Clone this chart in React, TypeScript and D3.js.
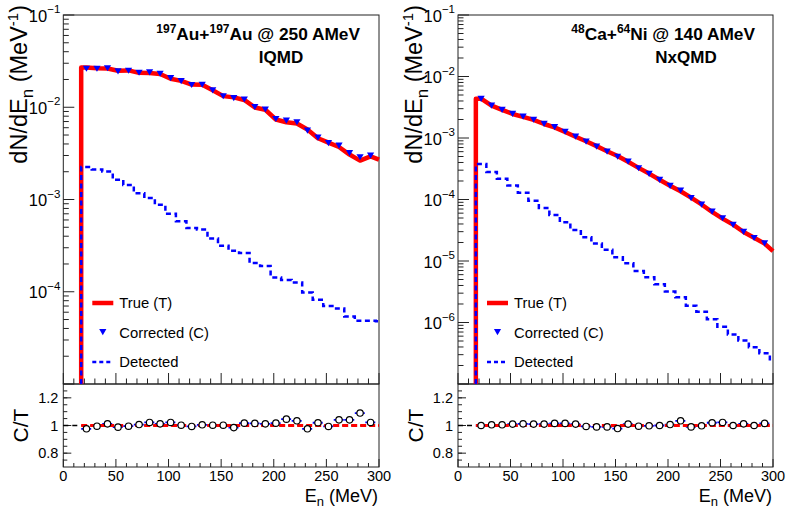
import React from 'react';
import * as d3 from 'd3';

// ---------- data ----------
const binEdges = [17, 27, 37, 47, 57, 67, 77, 87, 97, 107, 117, 127, 137, 147, 157, 167, 177, 187, 197, 207, 217, 227, 237, 247, 257, 267, 277, 287, 297, 300];
const binCenters = [22, 32, 42, 52, 62, 72, 82, 92, 102, 112, 122, 132, 142, 152, 162, 172, 182, 192, 202, 212, 222, 232, 242, 252, 262, 272, 282, 292];
const xTickLabels = [0, 50, 100, 150, 200, 250, 300];
const ratioTickLabels = [0.8, 1, 1.2];

// Au+Au (IQMD)
const auTrue = [2.69e-2, 2.64e-2, 2.63e-2, 2.49e-2, 2.51e-2, 2.36e-2, 2.35e-2, 2.29e-2, 2.04e-2, 1.93e-2, 1.76e-2, 1.75e-2, 1.53e-2, 1.32e-2, 1.28e-2, 1.2e-2, 9.95e-3, 9.39e-3, 7.37e-3, 6.88e-3, 6.67e-3, 5.74e-3, 4.61e-3, 4.13e-3, 3.71e-3, 3.07e-3, 2.64e-3, 2.94e-3];
const auTrueEnd = 2.7e-3;
const auCorrected = [2.63e-2, 2.63e-2, 2.66e-2, 2.46e-2, 2.5e-2, 2.38e-2, 2.4e-2, 2.32e-2, 2.08e-2, 1.93e-2, 1.75e-2, 1.76e-2, 1.53e-2, 1.32e-2, 1.26e-2, 1.22e-2, 1.01e-2, 9.5e-3, 7.5e-3, 7.2e-3, 6.9e-3, 5.6e-3, 4.7e-3, 4.1e-3, 3.86e-3, 3.2e-3, 2.88e-3, 3.0e-3];
const auDetected = [2.25e-3, 2.12e-3, 2.01e-3, 1.64e-3, 1.44e-3, 1.17e-3, 1.04e-3, 8.75e-4, 7.0e-4, 5.8e-4, 4.9e-4, 4.72e-4, 3.77e-4, 3.16e-4, 2.79e-4, 2.63e-4, 2.05e-4, 1.9e-4, 1.43e-4, 1.34e-4, 1.26e-4, 9.8e-5, 8.2e-5, 7.0e-5, 6.6e-5, 5.4e-5, 4.84e-5, 4.84e-5, 4.8e-5];
const auRatio = [0.976, 0.995, 1.012, 0.988, 0.995, 1.007, 1.022, 1.012, 1.022, 1.002, 0.993, 1.005, 1.002, 1.002, 0.985, 1.017, 1.015, 1.012, 1.017, 1.046, 1.034, 0.976, 1.02, 0.993, 1.041, 1.041, 1.09, 1.022];
const auYTicks = [-1, -2, -3, -4];

// Ca+Ni (NxQMD)
const caTrue = [4.35e-3, 3.37e-3, 2.87e-3, 2.46e-3, 2.21e-3, 1.97e-3, 1.69e-3, 1.49e-3, 1.25e-3, 1.05e-3, 8.86e-4, 7.37e-4, 6.11e-4, 5.11e-4, 4.11e-4, 3.27e-4, 2.64e-4, 2.1e-4, 1.67e-4, 1.36e-4, 1.07e-4, 8.3e-5, 6.27e-5, 4.89e-5, 3.9e-5, 2.96e-5, 2.38e-5, 1.92e-5];
const caTrueEnd = 1.45e-5;
const caCorrected = [4.35e-3, 3.39e-3, 2.88e-3, 2.48e-3, 2.24e-3, 1.99e-3, 1.71e-3, 1.51e-3, 1.27e-3, 1.06e-3, 8.8e-4, 7.3e-4, 6.05e-4, 5.0e-4, 4.15e-4, 3.25e-4, 2.63e-4, 2.1e-4, 1.68e-4, 1.41e-4, 1.06e-4, 8.3e-5, 6.4e-5, 5.0e-5, 3.9e-5, 3.0e-5, 2.38e-5, 1.95e-5];
const caDetected = [3.77e-4, 2.79e-4, 2.17e-4, 1.69e-4, 1.29e-4, 9.5e-5, 7.3e-5, 5.6e-5, 4.28e-5, 3.18e-5, 2.44e-5, 1.92e-5, 1.52e-5, 1.15e-5, 9.2e-6, 6.9e-6, 5.45e-6, 4.19e-6, 3.18e-6, 2.57e-6, 1.88e-6, 1.5e-6, 1.13e-6, 8.5e-7, 6.4e-7, 5.1e-7, 3.95e-7, 3.15e-7, 2.4e-7];
const caRatio = [1.0, 1.005, 1.005, 1.01, 1.012, 1.01, 1.01, 1.015, 1.015, 1.01, 0.993, 0.99, 0.99, 0.978, 1.01, 0.995, 0.998, 1.0, 1.007, 1.034, 0.99, 0.998, 1.02, 1.022, 1.0, 1.012, 1.0, 1.015];
const caYTicks = [-1, -2, -3, -4, -5, -6];

const FONT = "'Liberation Sans', Arial, Helvetica, sans-serif";
const RED = '#ff0000';
const BLUE = '#0000ff';

type PanelProps = {
  x0: number; x1: number;
  yMinExp: number;
  trueV: number[]; trueEnd: number;
  corr: number[]; det: number[]; ratio: number[];
  yTicks: number[];
  title1: React.ReactNode; title1X: number;
  title2: string; title2X: number;
};

const Y_TOP = 15, Y_SPLIT = 384, Y_BOT = 467;

function Panel(p: PanelProps) {
  const x = d3.scaleLinear().domain([0, 300]).range([p.x0, p.x1]);
  const y = d3.scaleLog().domain([Math.pow(10, p.yMinExp), 1e-1]).range([Y_SPLIT, Y_TOP]);
  const yr = d3.scaleLinear().domain([0.7, 1.3]).range([Y_BOT, Y_SPLIT]);

  const bottomV = Math.pow(10, p.yMinExp);
  const truePts: [number, number][] = [[binEdges[0], bottomV], [binEdges[0], p.trueV[0]]];
  binCenters.forEach((c, i) => truePts.push([c, p.trueV[i]]));
  truePts.push([300, p.trueEnd]);
  const line = d3.line<[number, number]>().x(d => x(d[0])).y(d => y(d[1]));

  let detPath = `M${x(binEdges[0])},${y(bottomV)}`;
  p.det.forEach((v, i) => {
    detPath += `V${y(v)}H${x(binEdges[i + 1])}`;
  });

  const majors: number[] = [];
  const minors: number[] = [];
  for (let e = p.yMinExp; e <= -1; e++) {
    majors.push(Math.pow(10, e));
    if (e < -1) for (let m = 2; m <= 9; m++) minors.push(m * Math.pow(10, e));
  }
  const xMinor = d3.range(0, 301, 10);
  const rMinor = d3.range(0.75, 1.3, 0.05);

  const tri = (cx: number, cy: number, s: number) =>
    `M${cx - s},${cy - s * 0.8}L${cx + s},${cy - s * 0.8}L${cx},${cy + s * 0.9}Z`;

  const ax = p.x0;
  const legX = ax + 29;
  return (
    <g fontFamily={FONT}>
      <rect x={ax} y={Y_TOP} width={p.x1 - ax} height={Y_SPLIT - Y_TOP} fill="none" stroke="#222" strokeWidth={1} />
      <rect x={ax} y={Y_SPLIT} width={p.x1 - ax} height={Y_BOT - Y_SPLIT} fill="none" stroke="#222" strokeWidth={1} />

      {majors.map((v, i) => <line key={'ym' + i} x1={ax} x2={ax + 11} y1={y(v)} y2={y(v)} stroke="#222" />)}
      {minors.map((v, i) => <line key={'yn' + i} x1={ax} x2={ax + 5.5} y1={y(v)} y2={y(v)} stroke="#222" />)}
      {p.yTicks.map(e => (
        <text key={'yl' + e} x={ax - 3} y={y(Math.pow(10, e))} dy="0.4em" textAnchor="end" fontSize={16.5} fill="#000">
          10<tspan fontSize={11.5} dy={-8.5}>{'\u2212' + (-e)}</tspan>
        </text>
      ))}
      {xMinor.map(v => (
        <line key={'xt' + v} x1={x(v)} x2={x(v)} y1={Y_SPLIT} y2={Y_SPLIT - (v % 50 === 0 ? 11 : 5.5)} stroke="#222" />
      ))}

      <path d={line(truePts) || ''} fill="none" stroke={RED} strokeWidth={4.5} strokeLinejoin="round" />
      <path d={detPath} fill="none" stroke={BLUE} strokeWidth={2.5} strokeDasharray="5 3.5" />
      {binCenters.map((c, i) => (
        <path key={'c' + i} d={tri(x(c), y(p.corr[i]), 3.6)} fill={BLUE} />
      ))}

      <text x={p.title1X} y={40} textAnchor="end" fontSize={17.3} fontWeight="bold">{p.title1}</text>
      <text x={p.title2X} y={62.5} textAnchor="middle" fontSize={17} fontWeight="bold">{p.title2}</text>

      <line x1={legX} x2={legX + 21} y1={303} y2={303} stroke={RED} strokeWidth={4.5} />
      <text x={legX + 27} y={303} dy="0.36em" fontSize={14.8}>True (T)</text>
      <path d={tri(legX + 10.5, 332, 3.6)} fill={BLUE} />
      <text x={legX + 27} y={333} dy="0.36em" fontSize={14.8}>Corrected (C)</text>
      <line x1={legX} x2={legX + 21} y1={362} y2={362} stroke={BLUE} strokeWidth={2.5} strokeDasharray="4 3" />
      <text x={legX + 27} y={362} dy="0.36em" fontSize={14.8}>Detected</text>

      <text transform={`translate(${ax - 36},${Y_TOP - 10}) rotate(-90)`} textAnchor="end" fontSize={23.5}>
        dN/dE<tspan fontSize={17} dy={6}>n</tspan><tspan dy={-6}> (MeV</tspan><tspan fontSize={15} dy={-9}>-1</tspan><tspan dy={9}>)</tspan>
      </text>

      {ratioTickLabels.map(v => (
        <g key={'rt' + v}>
          <line x1={ax} x2={ax + 8} y1={yr(v)} y2={yr(v)} stroke="#222" />
          <text x={ax - 5} y={yr(v)} dy="0.36em" textAnchor="end" fontSize={14.5}>{String(v)}</text>
        </g>
      ))}
      {rMinor.map((v, i) => <line key={'rn' + i} x1={ax} x2={ax + 4} y1={yr(v)} y2={yr(v)} stroke="#222" />)}
      {xMinor.map(v => (
        <line key={'xr' + v} x1={x(v)} x2={x(v)} y1={Y_BOT} y2={Y_BOT - (v % 50 === 0 ? 8 : 4)} stroke="#222" />
      ))}
      {xTickLabels.map(v => (
        <text key={'xl' + v} x={x(v)} y={481} textAnchor="middle" fontSize={14.5}>{v}</text>
      ))}
      <line x1={x(0)} x2={x(300)} y1={yr(1)} y2={yr(1)} stroke="#000" strokeWidth={1.5} strokeDasharray="5 4" />
      {binCenters.map((c, i) => (
        <line key={'rb' + i} x1={x(binEdges[i])} x2={x(binEdges[i + 1])} y1={yr(p.ratio[i])} y2={yr(p.ratio[i])} stroke={BLUE} strokeWidth={1.8} strokeDasharray="4 2" />
      ))}
      <line x1={x(binEdges[0])} x2={x(300)} y1={yr(1)} y2={yr(1)} stroke={RED} strokeWidth={3} strokeDasharray="6 3" />
      {binCenters.map((c, i) => (
        <circle key={'rc' + i} cx={x(c)} cy={yr(p.ratio[i])} r={3.2} fill="#fff" stroke="#000" strokeWidth={1.2} />
      ))}
      <text transform={`translate(${ax - 35},${(Y_SPLIT + Y_BOT) / 2}) rotate(-90)`} textAnchor="middle" fontSize={21}>C/T</text>

      <text x={p.x1 - 1} y={502} textAnchor="end" fontSize={18}>
        E<tspan fontSize={13} dy={4}>n</tspan><tspan dy={-4}> (MeV)</tspan>
      </text>
    </g>
  );
}

const sup = (s: string) => <tspan fontSize={12} dy={-7}>{s}</tspan>;
const base = (s: string) => <tspan dy={7}>{s}</tspan>;

export default function App() {
  return (
    <svg width={789} height={512} style={{ position: 'absolute', left: 0, top: 0, background: '#fff' }}>
      <rect width={789} height={512} fill="#fff" />
      <Panel
        x0={63.3} x1={379} yMinExp={-5}
        trueV={auTrue} trueEnd={auTrueEnd} corr={auCorrected} det={auDetected} ratio={auRatio}
        yTicks={auYTicks}
        title1={<>{sup('197')}{base('Au+')}{sup('197')}{base('Au @ 250 AMeV')}</>}
        title1X={360}
        title2="IQMD" title2X={281}
      />
      <Panel
        x0={458} x1={773} yMinExp={-7}
        trueV={caTrue} trueEnd={caTrueEnd} corr={caCorrected} det={caDetected} ratio={caRatio}
        yTicks={caYTicks}
        title1={<>{sup('48')}{base('Ca+')}{sup('64')}{base('Ni @ 140 AMeV')}</>}
        title1X={755}
        title2="NxQMD" title2X={686}
      />
    </svg>
  );
}
